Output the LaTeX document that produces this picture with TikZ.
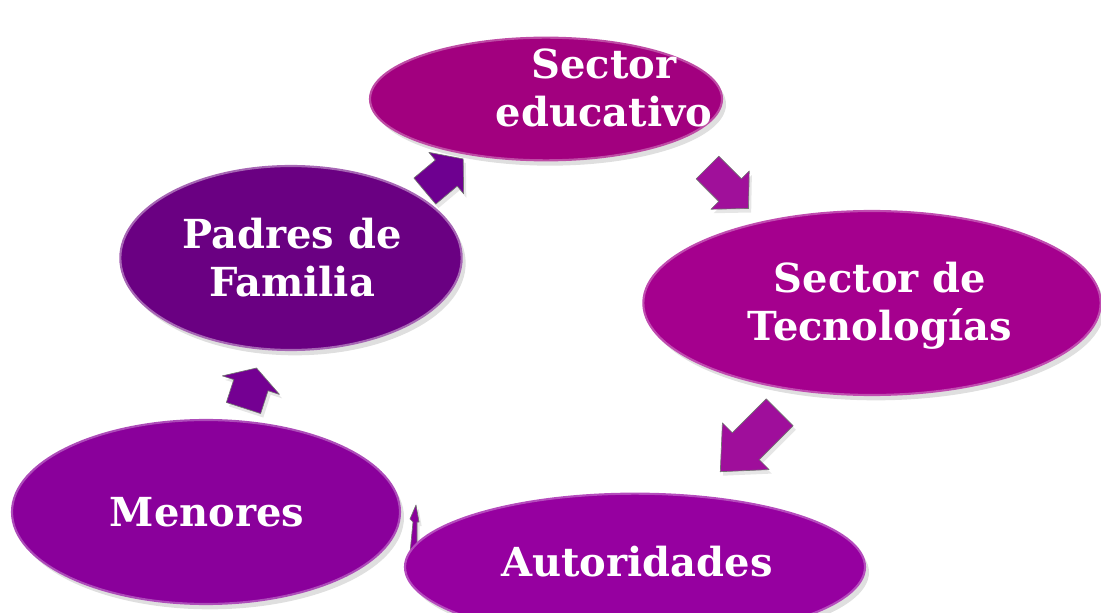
\documentclass[tikz,border=0pt]{standalone}
\usepackage{fontspec}
\setmainfont{DejaVu Serif}
\usetikzlibrary{shapes.geometric,shadows}
\definecolor{cEdu}{HTML}{A2007F}
\definecolor{cTec}{HTML}{A5008E}
\definecolor{cAut}{HTML}{9600A0}
\definecolor{cMen}{HTML}{8A009B}
\definecolor{cPad}{HTML}{6A0082}
\definecolor{cArrA}{HTML}{6E0090}
\definecolor{cArrB}{HTML}{A0109A}
\tikzset{
  oval/.style={ellipse, inner sep=0pt, line width=1.6pt,
    drop shadow={opacity=0.25, shadow xshift=3pt, shadow yshift=-4pt}},
  txt/.style={text=white, align=center, font=\bfseries\fontsize{30}{36}\selectfont, inner sep=0pt},
  blk/.style={draw=black!55, line width=0.5pt, line join=round,
    drop shadow={opacity=0.2, shadow xshift=2pt, shadow yshift=-3pt}}
}
% \blockarrow{name}{x}{y}{angle}{L}{w}{h}{k}{color}
\newcommand{\blockarrow}[9]{%
  \begin{scope}[shift={(#2,#3)}, rotate=#4]
    \coordinate (#1) at (0,0);
    \filldraw[blk, fill=#9] (-#5/2,-#6) -- (#5/2-#8,-#6) -- (#5/2-#8,-#7) -- (#5/2,0)
      -- (#5/2-#8,#7) -- (#5/2-#8,#6) -- (-#5/2,#6) -- cycle;
  \end{scope}}
\begin{document}
\begin{tikzpicture}[x=0.75pt,y=-0.75pt]
\useasboundingbox (0,0) rectangle (1101,613);
\clip (0,0) rectangle (1101,613);
% block arrows
\blockarrow{a1}{444}{175}{40}{50}{17}{27}{22}{cArrA}
\blockarrow{a2}{728}{188}{-45}{58}{16}{27}{26}{cArrB}
\blockarrow{a3}{750}{442}{-135}{84}{19}{33}{36}{cArrB!90!cAut}
\blockarrow{a5}{250}{388}{72}{42}{18}{30}{18}{cArrA!80!cMen}
\filldraw[blk, fill=cMen] (410,553) -- (413,522) -- (410,519) -- (416,505) -- (419,522) -- (417,522) -- (417,556) -- cycle;
% ellipses
\node[oval, fill=cEdu, draw=cEdu!70!white, minimum width=264pt, minimum height=92pt] (edu) at (546,99) {};
\node[oval, fill=cTec, draw=cTec!70!white, minimum width=343pt, minimum height=138pt] (tec) at (872,303) {};
\node[oval, fill=cAut, draw=cAut!70!white, minimum width=345pt, minimum height=110pt] (aut) at (635,567) {};
\node[oval, fill=cMen, draw=cMen!70!white, minimum width=291pt, minimum height=138pt] (men) at (206,512) {};
\node[oval, fill=cPad, draw=cPad!60!white, minimum width=256pt, minimum height=138pt] (pad) at (291,258) {};
% texts
\node[txt] (tedu) at (604,88) {Sector\\educativo};
\node[txt] (ttec) at (880,306) {Sector de\\Tecnologías};
\node[txt] (tpad) at (292,258) {Padres de\\Familia};
\node[txt] (tmen) at (207,512) {Menores};
\node[txt] (taut) at (637,562) {Autoridades};
\end{tikzpicture}
\end{document}
